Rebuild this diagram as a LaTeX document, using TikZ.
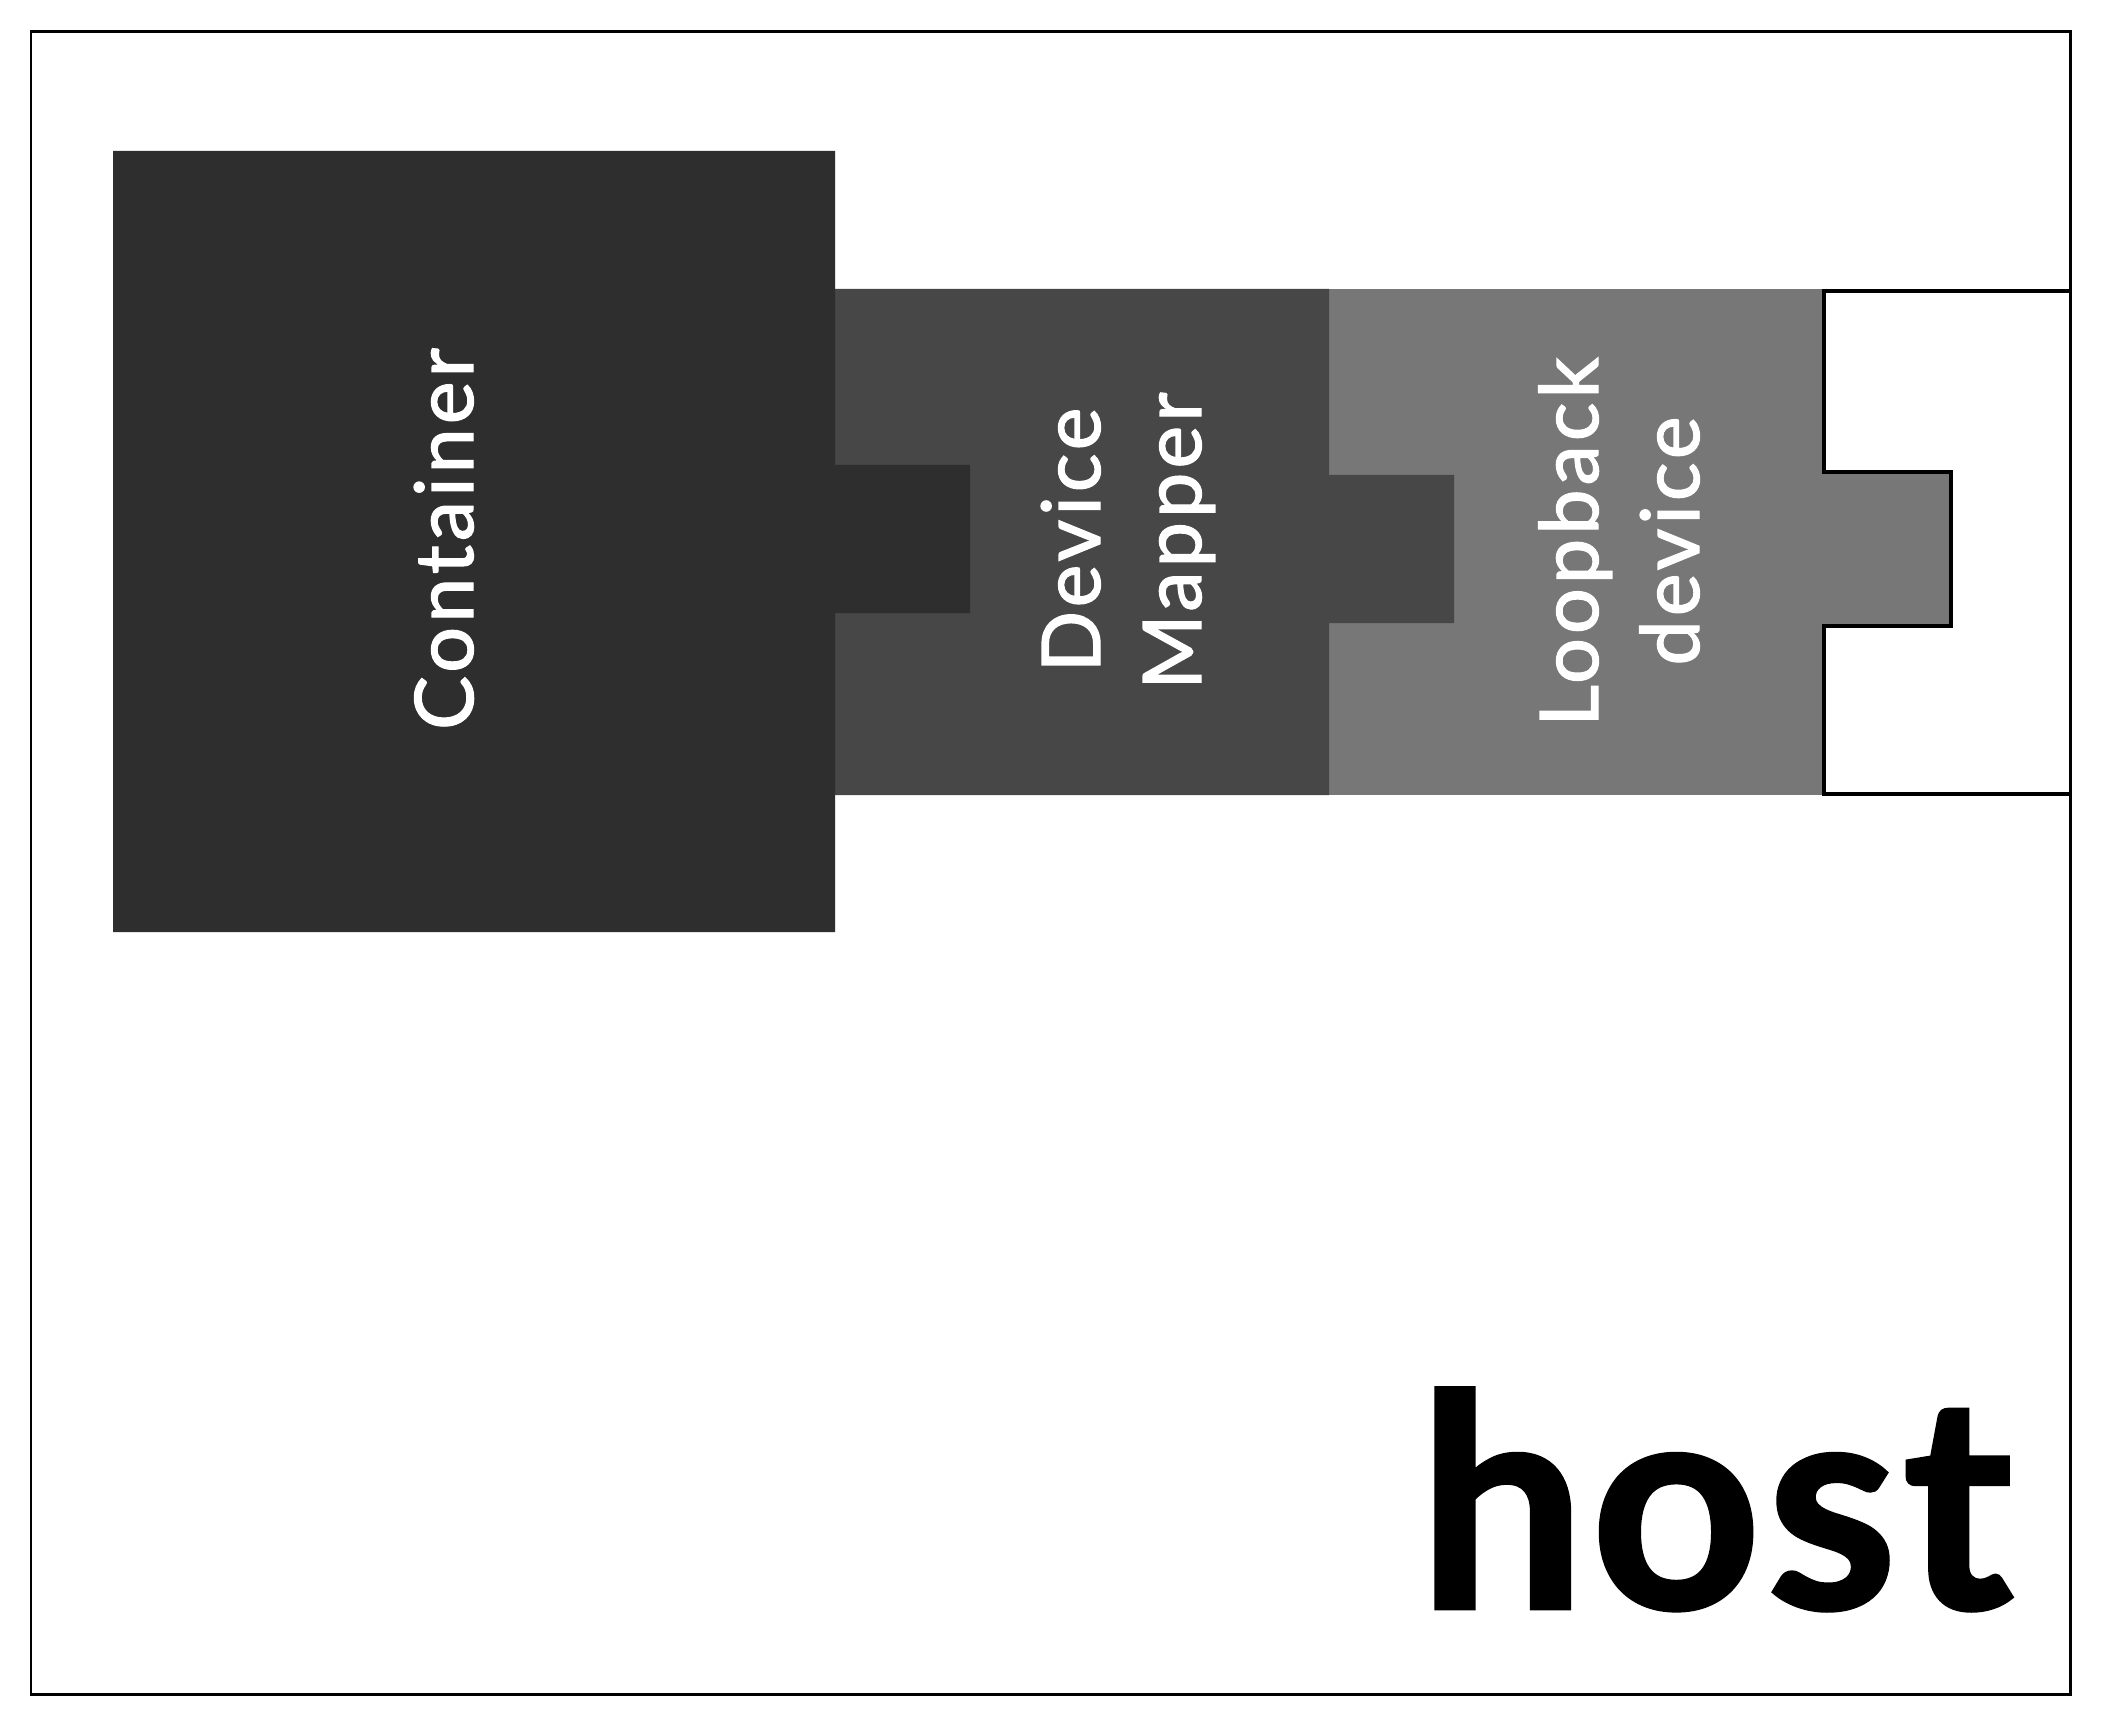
\documentclass[tikz,border=0pt]{standalone}
\usepackage{fontspec}
\setmainfont{Lato}
\newfontfamily\labelfont[LetterSpace=5,FakeBold=1.6]{Lato}
\newfontfamily\hostfont[FakeBold=1.6,LetterSpace=2]{Lato Bold}
\definecolor{contc}{HTML}{2E2E2E}
\definecolor{dmc}{HTML}{474747}
\definecolor{lbc}{HTML}{777777}
\tikzset{
  lbl/.style={text=white,font=\labelfont\fontsize{23}{28}\selectfont,rotate=90,anchor=base,inner sep=0pt},
  outl/.style={line width=1pt,draw=black,line join=miter},
  frame/.style={line width=0.85pt,draw=black}
}
\begin{document}
\begin{tikzpicture}[x=0.01cm,y=-0.01cm]
\useasboundingbox (0,0) rectangle (2104,1728);
\fill[white] (0,0) rectangle (2104,1728);
% host frame
\draw[frame] (31,32) rectangle (2070,1694);
% loopback device
\fill[lbc] (1329,289) rectangle (1824,795);
\fill[lbc] (1822,472) rectangle (1951,626);
\draw[outl] (2070,291) -- (1824,291) -- (1824,472) -- (1951,472) -- (1951,626) -- (1824,626) -- (1824,794) -- (2070,794);
% device mapper
\fill[dmc] (835,289) -- (1329,289) -- (1329,475) -- (1454,475) -- (1454,623) -- (1329,623) -- (1329,795) -- (835,795) -- cycle;
% container
\fill[contc] (113,151) -- (835,151) -- (835,465) -- (970,465) -- (970,613) -- (835,613) -- (835,932) -- (113,932) -- cycle;
% labels
\node[lbl] (cont) at (473,539) {Container};
\node[lbl] (dm1) at (1100,540) {Device};
\node[lbl] (dm2) at (1201,541) {Mapper};
\node[lbl] (lb1) at (1598,542) {Loopback};
\node[lbl] (lb2) at (1699,541) {device};
\node[anchor=base west,inner sep=0pt,font=\hostfont\fontsize{84}{90}\selectfont] (host) at (1418,1608) {host};
\end{tikzpicture}
\end{document}
